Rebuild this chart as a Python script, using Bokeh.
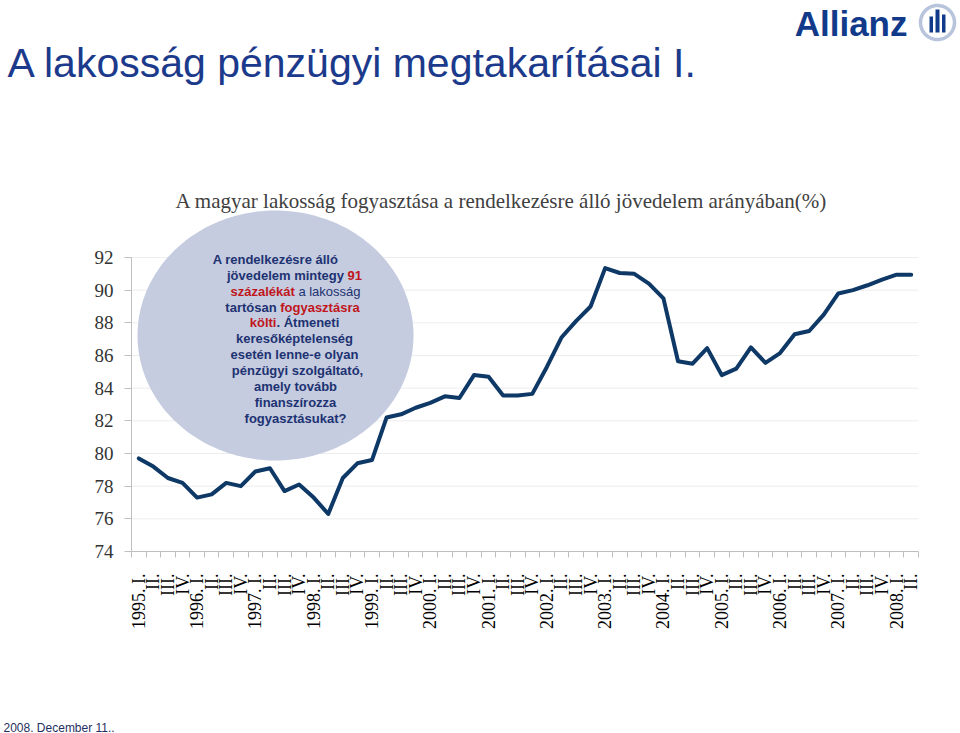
import math
import numpy as np
from bokeh.plotting import figure
from bokeh.models import Range1d, FixedTicker, Label, PolyAnnotation, BoxAnnotation
from bokeh.embed import file_html
from bokeh.resources import INLINE

# ---------------- data ----------------
quarter_labels = [
    "1995. I.", "II.", "III.", "IV.",
    "1996. I.", "II.", "III.", "IV.",
    "1997. I.", "II.", "III.", "IV.",
    "1998. I.", "II.", "III.", "IV.",
    "1999. I.", "II.", "III.", "IV.",
    "2000. I.", "II.", "III.", "IV.",
    "2001. I.", "II.", "III.", "IV.",
    "2002. I.", "II.", "III.", "IV.",
    "2003. I.", "II.", "III.", "IV.",
    "2004. I.", "II.", "III.", "IV.",
    "2005. I.", "II.", "III.", "IV.",
    "2006. I.", "II.", "III.", "IV.",
    "2007. I.", "II.", "III.", "IV.",
    "2008. I.", "II.",
]
consumption_ratio = [
    79.7, 79.2, 78.5, 78.2,
    77.3, 77.5, 78.2, 78.0,
    78.9, 79.1, 77.7, 78.1,
    77.3, 76.3, 78.5, 79.4,
    79.6, 82.2, 82.4, 82.8,
    83.1, 83.5, 83.4, 84.8,
    84.7, 83.55, 83.55, 83.65,
    85.3, 87.1, 88.1, 89.0,
    91.35, 91.05, 91.0, 90.4,
    89.5, 85.65, 85.5, 86.45,
    84.8, 85.2, 86.5, 85.55,
    86.15, 87.3, 87.5, 88.5,
    89.8, 90.0, 90.3, 90.65,
    90.95, 90.95,
]
y_ticks = [74, 76, 78, 80, 82, 84, 86, 88, 90, 92]

chart_title = "A magyar lakosság fogyasztása a rendelkezésre álló jövedelem arányában(%)"
slide_title = "A lakosság pénzügyi megtakarításai I."
footer_text = "2008. December 11.."

# ---------------- layout (page pixels) ----------------
W, H = 960, 733
PL, PT, PR, PB = 131, 257, 918, 551  # plot area edges in page px
n = len(consumption_ratio)
X0, X1 = -0.5, n - 0.5
Y0, Y1 = 74, 92


def dx(page_x):
    return X0 + (page_x - PL) * (X1 - X0) / (PR - PL)


def dy(page_y):
    return Y0 + (PB - page_y) * (Y1 - Y0) / (PB - PT)


p = figure(width=W, height=H, output_backend="svg", toolbar_location=None,
           x_range=Range1d(dx(0), dx(W)), y_range=Range1d(dy(H), dy(0)),
           min_border_left=0, min_border_top=0, min_border_right=0, min_border_bottom=0,
           title=None)
p.outline_line_color = None
p.background_fill_color = "white"
p.border_fill_color = "white"
p.xgrid.visible = False
p.ygrid.visible = False

# x axis (fixed inside the canvas at y = 74)
xa = p.xaxis[0]
xa.fixed_location = Y0
xa.bounds = (X0, X1)
xa.ticker = FixedTicker(ticks=list(range(n)), minor_ticks=[i - 0.5 for i in range(n + 1)])
xa.major_label_overrides = {i: lab for i, lab in enumerate(quarter_labels)}
xa.major_label_orientation = math.pi / 2
xa.major_label_text_font = "Liberation Serif"
xa.major_label_text_font_size = "18px"
xa.major_label_text_color = "#000000"
xa.major_tick_line_color = None
xa.major_tick_out = 6
xa.major_tick_in = 0
xa.major_label_standoff = 16
xa.minor_tick_out = 6
xa.minor_tick_in = 0
xa.minor_tick_line_color = "#BFBFBF"
xa.axis_line_color = "#BFBFBF"

# y axis (fixed inside the canvas at x = -0.5)
ya = p.yaxis[0]
ya.fixed_location = X0
ya.bounds = (Y0, Y1)
ya.ticker = FixedTicker(ticks=y_ticks)
ya.major_label_text_font = "Liberation Serif"
ya.major_label_text_font_size = "19px"
ya.major_label_text_color = "#333333"
ya.major_tick_out = 7
ya.major_tick_in = 0
ya.major_tick_line_color = "#BFBFBF"
ya.minor_tick_line_color = None
ya.axis_line_color = "#BFBFBF"
ya.major_label_standoff = 11

# horizontal grid lines limited to the plot area
grid = p.segment(x0=X0, x1=X1, y0=y_ticks[1:], y1=y_ticks[1:],
                 line_color="#EDEDED", line_width=1)
grid.level = "image"

# bubble (ellipse) behind the line
cx, cy, rx, ry = 275, 335, 138, 125
t = np.linspace(0, 2 * np.pi, 200)
ex = [dx(cx + rx * math.cos(a)) for a in t]
ey = [dy(cy + ry * math.sin(a)) for a in t]
p.add_layout(PolyAnnotation(xs=ex, ys=ey, fill_color="#C5CCDF", fill_alpha=1.0,
                            line_color=None, level="underlay"))

# the data line
p.line(x=list(range(n)), y=consumption_ratio, line_width=4, line_color="#0E3866",
       line_join="round", line_cap="round")

# ---------------- texts ----------------
BOLD = {'a': 556, 'á': 556, 'b': 611, 'c': 556, 'd': 611, 'e': 556, 'é': 556, 'f': 333,
        'g': 611, 'h': 611, 'i': 278, 'í': 278, 'j': 278, 'k': 556, 'l': 278, 'm': 889,
        'n': 611, 'o': 611, 'ó': 611, 'ö': 611, 'ő': 611, 'p': 611, 'r': 389, 's': 556,
        't': 333, 'u': 611, 'ü': 611, 'v': 556, 'y': 556, 'z': 500, ' ': 278, '.': 278,
        ',': 278, '9': 556, '1': 556, 'Á': 722, 'A': 722, '?': 611, '-': 333}
REG = {'a': 556, 'á': 556, 'k': 500, 'l': 222, 'o': 556, 's': 500, 'g': 556, ' ': 278}


def tw(s, bold, size):
    table = BOLD if bold else REG
    return sum(table.get(c, 556) for c in s) * size / 1000.0


BLUE = "#1D3272"
RED = "#C0161C"
FS = 13
bubble_lines = [
    (275, 259, [("A rendelkezésre álló", BLUE, True)]),
    (294, 275, [("jövedelem mintegy ", BLUE, True), ("91", RED, True)]),
    (295, 291, [("százalékát", RED, True), (" a lakosság", BLUE, False)]),
    (292, 307, [("tartósan ", BLUE, True), ("fogyasztásra", RED, True)]),
    (294, 322, [("költi", RED, True), (". Átmeneti", BLUE, True)]),
    (294, 338, [("keresőképtelenség", BLUE, True)]),
    (294, 354, [("esetén lenne-e olyan", BLUE, True)]),
    (297, 370, [("pénzügyi szolgáltató,", BLUE, True)]),
    (295, 386, [("amely tovább", BLUE, True)]),
    (295, 402, [("finanszírozza", BLUE, True)]),
    (295, 418, [("fogyasztásukat?", BLUE, True)]),
]
for cxl, yl, segs in bubble_lines:
    total = sum(tw(s, b, FS) for s, _, b in segs)
    xcur = cxl - total / 2
    for s, col, b in segs:
        lead = len(s) - len(s.lstrip(" "))
        core = s.strip(" ")
        x_core = xcur + tw(" " * lead, b, FS)
        p.add_layout(Label(x=dx(x_core), y=dy(yl), text=core, text_align="left",
                           text_baseline="middle", text_color=col,
                           text_font="Liberation Sans", text_font_size=f"{FS}px",
                           text_font_style="bold" if b else "normal"))
        xcur += tw(s, b, FS)

# chart title
p.add_layout(Label(x=dx(501), y=dy(200), text=chart_title, text_align="center",
                   text_baseline="middle", text_color="#404040",
                   text_font="Liberation Serif", text_font_size="21px"))

# slide title
p.add_layout(Label(x=dx(7), y=dy(62), text=slide_title, text_align="left",
                   text_baseline="middle", text_color="#1C3A8C",
                   text_font="Liberation Sans", text_font_size="41px"))

# footer
p.add_layout(Label(x=dx(3), y=dy(727), text=footer_text, text_align="left",
                   text_baseline="middle", text_color="#1F2F5F",
                   text_font="Liberation Sans", text_font_size="12px"))

# logo
LOGO = "#123A8A"
p.add_layout(Label(x=dx(907), y=dy(23), text="Allianz", text_align="right",
                   text_baseline="middle", text_color=LOGO,
                   text_font="Liberation Sans", text_font_size="35px",
                   text_font_style="bold"))
lcx, lcy, lr = 937, 22, 17
ct = np.linspace(0, 2 * np.pi, 80)
p.add_layout(PolyAnnotation(xs=[dx(lcx + lr * math.cos(a)) for a in ct],
                            ys=[dy(lcy + lr * math.sin(a)) for a in ct],
                            fill_color=None, line_color=LOGO, line_width=3.5))
for (l, r, tp, bt) in [(929, 932.5, 16, 32), (935, 939, 9, 32), (941.5, 945, 14, 32)]:
    p.add_layout(BoxAnnotation(left=dx(l), right=dx(r), top=dy(tp), bottom=dy(bt),
                               fill_color=LOGO, fill_alpha=1.0, line_color=None))

open("out.html", "w").write(file_html(p, INLINE))
